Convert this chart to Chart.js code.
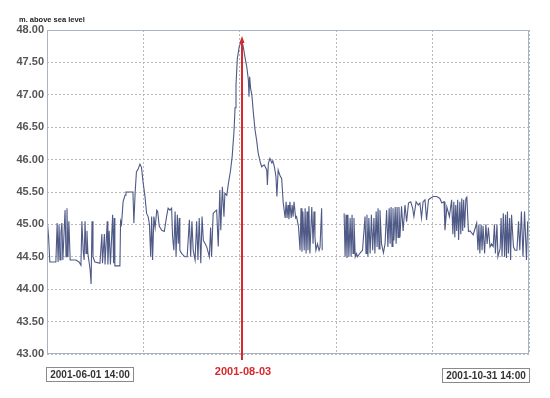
<!DOCTYPE html>
<html>
<head>
<meta charset="utf-8">
<title>Water level</title>
<script src="https://cdn.jsdelivr.net/npm/chart.js@4.4.0/dist/chart.umd.min.js"></script>
<style>
    html, body { margin: 0; padding: 0; background: #ffffff; }
    #wrap { width: 550px; height: 398px; position: relative; }
</style>
</head>
<body>
<div id="wrap"><canvas id="levelChart" width="550" height="398"></canvas></div>
<script>
// Textos del grafico
const unitLabel = 'm. above sea level';
const startLabel = '2001-06-01 14:00';
const endLabel = '2001-10-31 14:00';
const markerLabel = '2001-08-03';

// Eje x en dias desde 2001-06-01 14:00
const totalDays = 152;
const markerDay = 61.5;
const gridDays = [0, 30.4, 60.8, 91.2, 121.6, 152];

// Eje y
const yMin = 43;
const yMax = 48;
const yStep = 0.5;

// Serie: dia y nivel (null = sin datos)
const days = [
    0, 0.1, 0.5, 0.9, 2.8, 3.2, 3.5, 3.8, 4.1, 4.4, 4.7, 5.0, 5.7, 6.0, 6.3, 6.6, 6.9, 7.3, 9.1, 10.1,
    10.7, 11.0, 11.4, 11.7, 12.0, 12.3, 12.6, 12.9, 13.6, 13.9, 14.2, 14.5, 15.1, 16.7, 17.3, 17.5, 18.1, 18.3, 19.0, 19.2,
    19.6, 20.0, 20.7, 21.0, 21.2, 21.4, 23.0, 23.2, 23.5, 24.0, 24.6, 24.9, 27.1, 27.4, 27.8, 28.2, 28.7, 29.3, 29.8, 30.3,
    30.9, 31.4, 31.9, 32.3, 32.7, 33.0, 33.3, 33.7, 34.1, 34.6, 34.9, 35.4, 36.2, 37.0, 37.7, 38.2, 38.8, 39.3, 39.6, 40.0,
    40.4, 40.7, 41.1, 41.4, 41.7, 41.9, 42.5, 43.5, 44.2, 44.9, 45.3, 45.7, 46.1, 46.7, 47.2, 47.6, 48.0, 48.5, 48.9, 49.3,
    49.8, 50.4, 51.2, 51.6, 51.9, 52.4, 53.0, 53.5, 54.0, 54.5, 54.8, 55.3, 55.8, 56.1, 56.7, 57.2, 57.9, 58.4, 59.0, 59.3,
    59.6, 60.0, 60.6, 61.4, 61.9, 62.4, 63.0, 63.5, 63.7, 63.9, 64.2, 64.6, 65.1, 65.6, 66.1, 66.6, 67.2, 67.7, 68.5, 69.3,
    69.5, 69.8, 70.3, 70.9, 71.2, 71.7, 72.2, 72.5, 72.9, 73.5, 74.0, 74.5, 75.1, 75.4, 75.7, 76.0, 76.3, 76.6, 77.0, 77.3,
    77.6, 77.9, 78.4, 78.7, 79.3, 79.8, 80.1, 80.4, 80.7, 81.1, 81.4, 81.7, 82.0, 82.3, 82.6, 82.9, 83.5, 83.9, 84.2, 84.5,
    84.8, 85.3, 85.8, 86.1, 86.6, 86.8, 90.0,
    93.7, 94.0, 94.3, 94.6, 94.9, 95.2, 95.6, 95.9, 96.2, 96.5, 96.8, 97.2, 97.6, 97.9, 98.6, 99.1, 99.5, 100.3, 100.6, 100.9,
    101.2, 101.5, 101.9, 102.3, 102.7, 103.1, 103.4, 103.8, 104.1, 104.4, 104.7, 105.0, 105.5, 106.1, 106.6, 107.1, 107.5, 107.9, 108.2, 108.5,
    108.8, 109.1, 109.4, 109.8, 110.1, 110.4, 110.7, 111.0, 111.3, 111.8, 112.3, 112.9, 113.4, 114.0, 114.7, 115.3, 115.7, 116.4, 117.1, 117.6,
    118.1, 118.6, 119.2, 119.7, 120.3, 120.8, 121.8, 122.9, 123.9, 124.5, 125.2, 125.5, 126.1, 126.9, 127.6, 128.0, 128.3, 128.6, 128.9, 129.2,
    129.5, 129.8, 130.2, 130.5, 130.8, 131.1, 131.4, 131.7, 132.1, 132.4, 132.9, 133.4, 134.4, 135.5, 135.9, 136.2, 136.5, 136.9, 137.2, 137.5,
    138.0, 138.4, 138.8, 139.2, 139.7, 140.2, 140.7, 141.1, 141.4, 141.9, 142.2, 142.9, 143.2, 143.5, 143.9, 144.3, 144.6, 144.9, 145.2, 145.5,
    145.9, 146.2, 146.5, 147.1, 147.6, 148.2, 148.7, 149.1, 149.6, 150.1, 150.6, 151.2, 151.6
];
const levels = [
    44.05, 45.05, 44.80, 44.42, 44.42, 45.02, 44.42, 45.00, 44.45, 44.88, 45.02, 44.45, 45.22, 44.50, 45.25, 44.50, 45.05, 44.45, 44.45, 44.42,
    44.37, 45.05, 44.60, 44.45, 45.05, 44.55, 44.90, 44.55, 44.30, 44.08, 45.05, 44.50, 44.42, 44.40, 44.85, 44.40, 44.85, 44.38, 45.05, 44.38,
    44.90, 44.38, 45.15, 44.40, 45.10, 44.36, 44.36, 45.05, 45.00, 45.35, 45.45, 45.50, 45.50, 45.02, 45.50, 45.81, 45.85, 45.93, 45.88, 45.65,
    45.43, 45.17, 45.12, 45.00, 44.50, 45.12, 44.45, 45.12, 44.95, 45.22, 45.20, 44.97, 44.91, 44.89, 45.12, 45.25, 45.22, 45.25, 44.81, 44.60,
    45.20, 44.50, 45.15, 44.70, 45.10, 44.60, 44.55, 44.50, 44.50, 45.07, 44.50, 45.05, 44.60, 44.45, 45.05, 44.45, 45.10, 44.40, 45.12, 44.75,
    44.71, 44.65, 44.50, 44.95, 44.50, 45.17, 45.20, 45.22, 44.66, 45.53, 44.91, 45.58, 45.12, 45.48, 45.45, 45.63, 45.84, 46.05, 46.46, 46.80,
    47.15, 47.55, 47.74, 47.85, 47.74, 47.59, 47.43, 47.23, 46.97, 47.28, 47.10, 47.00, 46.71, 46.46, 46.30, 46.10, 45.97, 45.89, 45.92, 45.84,
    45.61, 45.94, 46.02, 45.95, 45.98, 45.89, 45.74, 45.43, 45.84, 45.75, 45.71, 45.33, 45.10, 45.35, 45.10, 45.30, 45.08, 45.35, 45.10, 45.30,
    45.12, 45.35, 45.10, 45.12, 44.97, 44.60, 45.25, 44.58, 45.20, 44.60, 45.25, 44.55, 45.20, 44.60, 45.28, 44.55, 45.27, 44.70, 45.20, 44.81,
    44.60, 44.70, 44.60, 44.65, 45.25, 44.60, null,
    45.17, 44.50, 45.15, 44.48, 45.15, 44.50, 45.10, 44.50, 45.15, 44.55, 45.10, 44.50, 44.55, 44.50, 44.55, 44.58, 44.60, 45.12, 44.55, 45.15,
    44.50, 45.10, 44.55, 45.15, 44.60, 45.10, 44.55, 45.20, 44.65, 45.25, 44.62, 45.22, 44.70, 44.56, 44.70, 45.22, 44.65, 45.25, 44.70, 45.27,
    44.66, 45.25, 44.75, 45.27, 44.70, 45.27, 44.80, 45.27, 44.80, 45.28, 44.90, 45.30, 45.04, 45.33, 45.35, 45.25, 45.12, 45.35, 45.30, 45.33,
    45.10, 45.35, 45.38, 45.07, 45.38, 45.40, 45.43, 45.43, 45.40, 45.33, 45.35, 44.91, 45.27, 45.12, 45.38, 44.85, 45.35, 44.80, 45.30, 44.90,
    45.38, 44.76, 45.35, 44.85, 45.40, 44.90, 45.38, 44.95, 45.40, 45.42, 44.89, 44.90, 44.84, 45.02, 44.60, 45.00, 44.55, 45.00, 44.60, 44.98,
    44.55, 45.00, 44.70, 44.95, 44.65, 44.70, 44.66, 45.00, 44.55, 45.00, 44.50, 44.63, 45.10, 44.50, 45.17, 44.50, 45.15, 44.48, 45.20, 44.55,
    45.10, 44.45, 45.15, 44.65, 44.60, 44.60, 45.05, 44.60, 45.20, 44.50, 45.20, 44.45, 45.05
];

const fontFamily = '"Liberation Sans", Arial, sans-serif';

// Plugin para el marco, la linea roja y los textos de fechas
const extrasPlugin = {
    id: 'extras',
    afterDraw(chart) {
        const { ctx, chartArea: a, scales: { x } } = chart;
        ctx.save();

        // Marco del area del grafico
        ctx.strokeStyle = '#a9b4c4';
        ctx.lineWidth = 1;
        ctx.strokeRect(Math.round(a.left) + 0.5, Math.round(a.top) + 0.5, Math.round(a.width) - 1, Math.round(a.height) - 1);

        // Linea roja del evento
        const mx = Math.round(x.getPixelForValue(markerDay));
        ctx.strokeStyle = '#d8282c';
        ctx.lineWidth = 2;
        ctx.beginPath();
        ctx.moveTo(mx, a.top + 9);
        ctx.lineTo(mx, a.bottom + 6);
        ctx.stroke();
        ctx.fillStyle = '#d8282c';
        ctx.beginPath();
        ctx.moveTo(mx, a.top + 6);
        ctx.lineTo(mx - 2.5, a.top + 13);
        ctx.lineTo(mx + 2.5, a.top + 13);
        ctx.closePath();
        ctx.fill();

        // Etiqueta de la fecha del evento
        ctx.font = 'bold 11px ' + fontFamily;
        ctx.textAlign = 'center';
        ctx.textBaseline = 'alphabetic';
        ctx.fillText(markerLabel, mx + 1, a.bottom + 21);

        // Unidad arriba del eje y
        ctx.fillStyle = '#222';
        ctx.font = 'bold 7.5px ' + fontFamily;
        ctx.textAlign = 'left';
        ctx.fillText(unitLabel, 19, 22);

        // Cajas con fecha inicial y final
        ctx.font = 'bold 10px ' + fontFamily;
        ctx.textBaseline = 'middle';
        const drawBox = (text, left, top) => {
            const w = 88, h = 15;
            ctx.fillStyle = '#ffffff';
            ctx.fillRect(left, top, w, h);
            ctx.strokeStyle = '#8a8a8a';
            ctx.lineWidth = 1;
            ctx.strokeRect(left + 0.5, top + 0.5, w - 1, h - 1);
            ctx.fillStyle = '#333';
            ctx.textAlign = 'center';
            ctx.fillText(text, left + w / 2, top + h / 2 + 1);
        };
        drawBox(startLabel, Math.round(x.getPixelForValue(0)) - 1, a.bottom + 13);
        drawBox(endLabel, Math.round(x.getPixelForValue(totalDays)) - 87, a.bottom + 14);

        ctx.restore();
    }
};

const canvas = document.getElementById('levelChart');
new Chart(canvas, {
    type: 'line',
    data: {
        datasets: [{
            data: days.map((d, i) => ({ x: d, y: levels[i] })),
            borderColor: '#4f5a86',
            borderWidth: 1.1,
            pointRadius: 0,
            tension: 0,
            spanGaps: false,
            fill: false
        }]
    },
    options: {
        responsive: false,
        animation: false,
        devicePixelRatio: 1,
        layout: { padding: { top: 30, right: 21, bottom: 44, left: 0 } },
        plugins: {
            legend: { display: false },
            tooltip: { enabled: false }
        },
        scales: {
            x: {
                type: 'linear',
                min: 0,
                max: totalDays,
                afterBuildTicks: (scale) => {
                    scale.ticks = gridDays.map(v => ({ value: v }));
                },
                afterFit: (scale) => { scale.height = 0; },
                ticks: { display: false },
                border: { display: false, dash: [2, 2] },
                grid: {
                    color: '#b9b9b9',
                    lineWidth: 1,
                    drawTicks: false
                }
            },
            y: {
                min: yMin,
                max: yMax,
                afterFit: (scale) => { scale.width = 47; },
                ticks: {
                    stepSize: yStep,
                    padding: 3,
                    color: '#555',
                    font: { family: fontFamily, size: 11, weight: 'bold' },
                    callback: (v) => v.toFixed(2)
                },
                border: { display: false, dash: [2, 2] },
                grid: {
                    color: '#b9b9b9',
                    lineWidth: 1,
                    drawTicks: false
                }
            }
        }
    },
    plugins: [extrasPlugin]
});
</script>
</body>
</html>
